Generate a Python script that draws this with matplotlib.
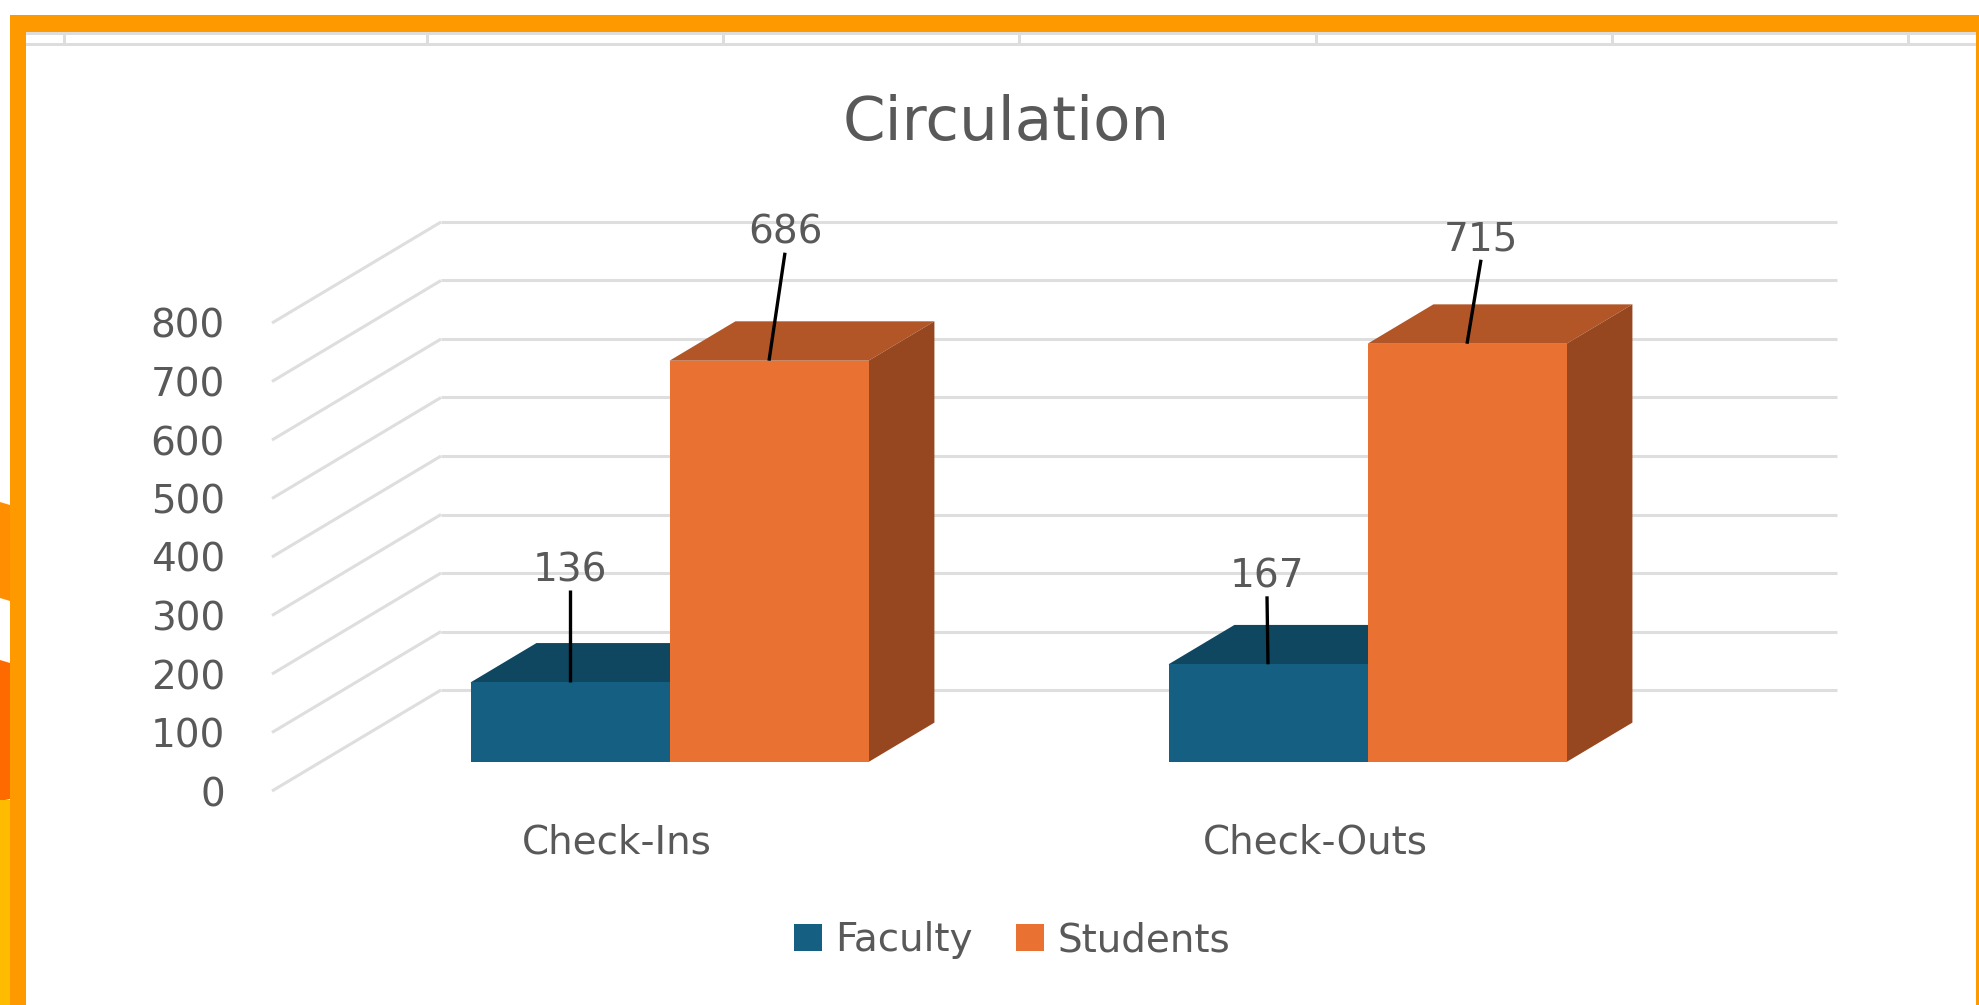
import matplotlib
matplotlib.use("Agg")
import matplotlib.pyplot as plt
from matplotlib.patches import Polygon, Patch

# chart data
categories = ["Check-Ins", "Check-Outs"]
series_names = ["Faculty", "Students"]
faculty = [136, 167]
students = [686, 715]
y_ticks = [0, 100, 200, 300, 400, 500, 600, 700, 800]

# colours (front, top, side) per series
faces = {
    "Faculty": ("#156082", "#0F4761", "#0D3F56"),
    "Students": ("#E97132", "#B35627", "#96471F"),
}
grid_c = "#DEDEDE"
text_c = "#595959"

W, H = 1979, 1005
fig = plt.figure(figsize=(W / 100, H / 100), dpi=100)
fig.patch.set_facecolor("white")


def fig_poly(pts, color):
    # pts in pixels, measured from the top-left corner
    fig.add_artist(Polygon([(x / W, 1 - y / H) for x, y in pts], closed=True,
                           facecolor=color, edgecolor="none",
                           transform=fig.transFigure, zorder=0))


def fig_rect(x0, y0, x1, y1, color):
    fig_poly([(x0, y0), (x1, y0), (x1, y1), (x0, y1)], color)


# slide decoration at the far left
fig_poly([(0, 502), (10, 505), (10, 601), (0, 598)], "#FF8F00")
fig_poly([(0, 660), (10, 663), (10, 799), (0, 801)], "#FF6A00")
fig_rect(0, 800, 10, H, "#FFBB00")

# orange frame
fig_rect(10, 15, W, 32, "#FF9900")
fig_rect(10, 15, 26, H, "#FF9900")
fig_rect(1976, 15, W, H, "#FF9900")

# leftover spreadsheet grid under the frame
fig_rect(26, 32, 1976, 35, "#DDDDDD")
fig_rect(26, 43, 1976, 46, "#DDDDDD")
for cx in [64, 427, 723, 1019, 1316, 1612, 1908]:
    fig_rect(cx - 1.5, 32, cx + 1.5, 46, "#DDDDDD")

# main axes: front plane, one category unit = 698 px, 100 units = 58.5 px
ax = fig.add_axes([0, 0, 1, 1])
ax.set_axis_off()
px_cat = 698.0
px_val = 0.585
ax.set_xlim(-621 / px_cat, (W - 621) / px_cat)
ax.set_ylim(-(H - 791) / px_val, 791 / px_val)

# depth of the 3-D box (full depth), in data units
DX = 169 / px_cat
DY = 101 / px_val
wall_x0, wall_x1 = -0.5, 1.5

for v in y_ticks:
    ax.plot([wall_x0, wall_x0 + DX], [v, v + DY], color=grid_c, lw=2.2,
            solid_capstyle="butt", zorder=1)
    ax.plot([wall_x0 + DX, wall_x1 + DX], [v + DY, v + DY], color=grid_c,
            lw=2.2, solid_capstyle="butt", zorder=1)
    ax.text(wall_x0 - 47 / px_cat, v, str(v), ha="right", va="center_baseline",
            fontsize=28, color=text_c)

bar_w = 199 / px_cat
d0, d1 = 0.287, 0.677


def draw_box(xl, val, cols, z):
    xr = xl + bar_w
    fx, fy = d0 * DX, d0 * DY
    bx, by = d1 * DX, d1 * DY
    front, top, side = cols
    ax.add_patch(Polygon([(xl + fx, val + fy), (xr + fx, val + fy),
                          (xr + bx, val + by), (xl + bx, val + by)],
                         facecolor=top, edgecolor="none", zorder=z))
    ax.add_patch(Polygon([(xr + fx, fy), (xr + bx, by),
                          (xr + bx, val + by), (xr + fx, val + fy)],
                         facecolor=side, edgecolor="none", zorder=z))
    ax.add_patch(Polygon([(xl + fx, fy), (xr + fx, fy),
                          (xr + fx, val + fy), (xl + fx, val + fy)],
                         facecolor=front, edgecolor="none", zorder=z))
    return (xl + xr) / 2 + fx, val + fy


# data labels were dragged by hand in the original: offsets in px (right, up)
label_offsets = {
    "Faculty": [(0, 116), (-1, 92)],
    "Students": [(16, 132), (14, 108)],
}

for i, cat in enumerate(categories):
    for k, (name, vals) in enumerate(zip(series_names, [faculty, students])):
        xl = i - bar_w + k * bar_w
        cx, cy = draw_box(xl, vals[i], faces[name], 3 + k)
        ox, oy = label_offsets[name][i]
        lx, ly = cx + ox / px_cat, cy + oy / px_val
        ax.text(lx, ly, str(vals[i]), ha="center", va="center_baseline",
                fontsize=28, color=text_c, zorder=10)
        ax.plot([lx, cx], [ly - 24 / px_val, cy], color="black", lw=2.4,
                solid_capstyle="butt", zorder=10)
    ax.text(i - 4 / px_cat, -47 / px_val, cat, ha="center",
            va="center_baseline", fontsize=28, color=text_c)

fig.text(1006 / W, 1 - 117 / H, "Circulation", ha="center",
         va="center_baseline", fontsize=44, color=text_c)

handles = [Patch(facecolor=faces[n][0], edgecolor="none") for n in series_names]
leg = fig.legend(handles, series_names, loc="center", ncol=2,
                 bbox_to_anchor=(1012 / W, 1 - 940 / H), frameon=False,
                 fontsize=28, handlelength=0.72, handleheight=0.72,
                 handletextpad=0.35, columnspacing=1.1, borderaxespad=0)
for t in leg.get_texts():
    t.set_color(text_c)

fig.savefig("out.png", dpi=100, facecolor="white")
